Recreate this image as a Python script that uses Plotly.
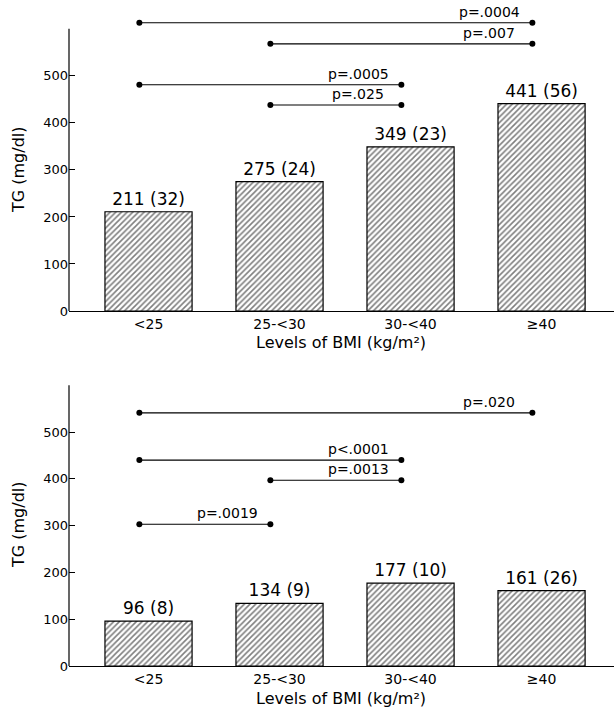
import plotly.graph_objects as go
from plotly.subplots import make_subplots

# BMI groups
categories = ["<25", "25-<30", "30-<40", "≥40"]

# Upper panel: mean TG and group sizes
tg_upper = [211, 275, 349, 441]
n_upper = [32, 24, 23, 56]
cmp_upper_pairs = [(0, 3), (1, 3), (0, 2), (1, 2)]
cmp_upper_p = ["p=.0004", "p=.007", "p=.0005", "p=.025"]
cmp_upper_level = [613, 568, 481, 438]

# Lower panel: mean TG and group sizes
tg_lower = [96, 134, 177, 161]
n_lower = [8, 9, 10, 26]
cmp_lower_pairs = [(0, 3), (0, 2), (1, 2), (0, 1)]
cmp_lower_p = ["p=.020", "p<.0001", "p=.0013", "p=.0019"]
cmp_lower_level = [541, 440, 397, 303]

y_ticks = [0, 100, 200, 300, 400, 500]

FONT = "DejaVu Sans"
W, H = 614, 708
M_T, M_B, M_L = 10, 42, 69
plot_h = H - M_T - M_B


def paper_y(py):
    return (H - M_B - py) / plot_h


fig = make_subplots(rows=2, cols=1)
x_idx = list(range(len(categories)))

panels = [
    (1, tg_upper, n_upper, cmp_upper_pairs, cmp_upper_p, cmp_upper_level, (311, 10)),
    (2, tg_lower, n_lower, cmp_lower_pairs, cmp_lower_p, cmp_lower_level, (666, 366.5)),
]

for row, tg, n, pairs, plabels, levels, (py_bot, py_top) in panels:
    xref = f"x{row}" if row > 1 else "x"
    yref = f"y{row}" if row > 1 else "y"
    xdom = f"x{row} domain" if row > 1 else "x domain"

    fig.add_trace(
        go.Bar(
            x=x_idx,
            y=tg,
            width=0.665,
            text=[f"{v} ({k})" for v, k in zip(tg, n)],
            textposition="outside",
            cliponaxis=False,
            textfont=dict(family=FONT, size=17, color="black"),
            marker=dict(
                color="white",
                line=dict(color="black", width=1.2),
                pattern=dict(shape="/", size=4, solidity=0.4,
                             fgcolor="black", bgcolor="white"),
            ),
            showlegend=False,
        ),
        row=row, col=1,
    )
    # pairwise comparison brackets
    for (a, b), lab, lev in zip(pairs, plabels, levels):
        xa, xb = a - 0.07, b - 0.07
        fig.add_trace(
            go.Scatter(
                x=[xa, xb], y=[lev, lev],
                mode="lines+markers",
                line=dict(color="black", width=1.1),
                marker=dict(color="black", size=6),
                cliponaxis=False,
                showlegend=False,
                hoverinfo="skip",
            ),
            row=row, col=1,
        )
        fig.add_annotation(
            x=b - 0.4, y=lev, xref=xref, yref=yref,
            text=lab, showarrow=False, xanchor="center", yanchor="bottom", yshift=1,
            font=dict(family=FONT, size=14, color="black"),
        )

    # vertical axis line stops at 600
    fig.add_shape(type="line", xref=xdom, yref=yref, x0=0, x1=0, y0=0, y1=600,
                  line=dict(color="black", width=1.2))

    fig.update_yaxes(
        row=row, col=1,
        range=[0, 640],
        domain=[paper_y(py_bot), paper_y(py_top)],
        tickvals=y_ticks,
        ticks="inside", ticklen=6, tickcolor="black", tickwidth=1,
        showgrid=False, zeroline=False, showline=False,
        tickfont=dict(family=FONT, size=13, color="black"),
    )
    fig.update_xaxes(
        row=row, col=1,
        range=[-0.607, 3.553],
        tickvals=x_idx, ticktext=categories,
        ticks="", showgrid=False, zeroline=False,
        showline=True, linecolor="black", linewidth=1.2,
        tickfont=dict(family=FONT, size=14, color="black"),
    )

    # axis titles
    fig.add_annotation(
        xref="paper", yref="paper",
        x=(341 - M_L) / (W - M_L), y=paper_y(py_bot + 32),
        xanchor="center", yanchor="middle",
        text="Levels of BMI (kg/m²)", showarrow=False,
        font=dict(family=FONT, size=16, color="black"),
    )
    fig.add_annotation(
        xref="paper", yref="paper",
        x=(18 - M_L) / (W - M_L), y=paper_y(py_bot - 141),
        xanchor="center", yanchor="middle",
        text="TG (mg/dl)", showarrow=False, textangle=-90,
        font=dict(family=FONT, size=16, color="black"),
    )

fig.update_layout(
    width=W, height=H,
    margin=dict(l=M_L, r=0, t=M_T, b=M_B),
    plot_bgcolor="white", paper_bgcolor="white",
    bargap=0.3,
)

fig.write_html("out.html")
